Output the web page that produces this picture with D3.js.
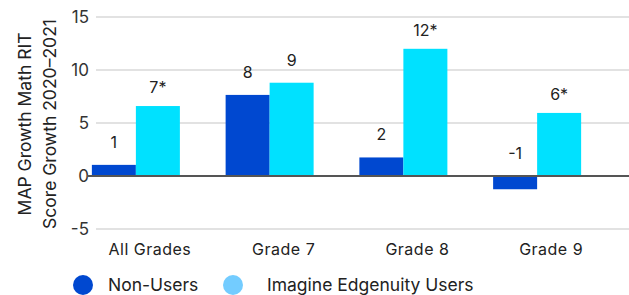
<!DOCTYPE html>
<html>
<head>
<meta charset="utf-8">
<script src="https://cdn.jsdelivr.net/npm/d3@7"></script>
<style>
  body { margin: 0; background: #fff; }
  text { font-family: Inter, 'Noto Sans', sans-serif; fill: #222; }
</style>
</head>
<body>
<div id="chart"></div>
<script>
// data
const categories = ['All Grades', 'Grade 7', 'Grade 8', 'Grade 9'];
const seriesNames = ['Non-Users', 'Imagine Edgenuity Users'];
const nonUsers = [1.05, 7.65, 1.75, -1.25];
const edgenuityUsers = [6.6, 8.8, 12.0, 5.95];
const nonUserLabels = ['1', '8', '2', '-1'];
const userLabels = ['7*', '9', '12*', '6*'];
const yTicks = [-5, 0, 5, 10, 15];

const width = 629;
const height = 295;
const barColors = ['#0048d0', '#00e1ff'];
const legendColors = ['#0048d0', '#73ccff'];

const svg = d3.select('#chart').append('svg').attr('width', width).attr('height', height);

// scales
const y = d3.scaleLinear().domain([-5, 15]).range([229, 17]);
const x = d3.scaleBand().domain(categories).range([69, 604]).paddingInner(0.342).paddingOuter(0.171);
const xSub = d3.scaleBand().domain(seriesNames).range([0, x.bandwidth()]);

// gridlines
svg.append('g')
  .selectAll('line')
  .data(yTicks.filter((d) => d !== 0))
  .join('line')
  .attr('x1', 96)
  .attr('x2', width)
  .attr('y1', (d) => y(d))
  .attr('y2', (d) => y(d))
  .attr('stroke', '#d9d9d9')
  .attr('stroke-width', 1.5);

// y tick labels
svg.append('g')
  .selectAll('text')
  .data(yTicks)
  .join('text')
  .attr('x', 89)
  .attr('y', (d) => y(d))
  .attr('dy', '0.35em')
  .attr('text-anchor', 'end')
  .attr('font-size', 17)
  .style('fill', '#333')
  .text((d) => d);

// bars
const rows = categories.map((c, i) => ({
  category: c,
  values: [
    { name: seriesNames[0], value: nonUsers[i], label: nonUserLabels[i] },
    { name: seriesNames[1], value: edgenuityUsers[i], label: userLabels[i] },
  ],
}));

const groups = svg.append('g')
  .selectAll('g')
  .data(rows)
  .join('g')
  .attr('transform', (d) => `translate(${x(d.category)},0)`);

groups.selectAll('rect')
  .data((d) => d.values)
  .join('rect')
  .attr('x', (d) => xSub(d.name))
  .attr('width', xSub.bandwidth())
  .attr('y', (d) => y(Math.max(0, d.value)))
  .attr('height', (d) => Math.abs(y(d.value) - y(0)))
  .attr('fill', (d, i) => barColors[i]);

// value labels (starred ones sit a bit closer to the bar)
groups.selectAll('text')
  .data((d) => d.values)
  .join('text')
  .attr('x', (d) => xSub(d.name) + xSub.bandwidth() / 2)
  .attr('y', (d) => y(Math.max(0, d.value)) - (d.label.includes('*') ? 13 : 17))
  .attr('text-anchor', 'middle')
  .attr('font-size', 16)
  .text((d) => d.label);

// zero line on top of bars
svg.append('line')
  .attr('x1', 87)
  .attr('x2', width)
  .attr('y1', y(0))
  .attr('y2', y(0))
  .attr('stroke', '#555')
  .attr('stroke-width', 2);

// category labels
svg.append('g')
  .selectAll('text')
  .data(categories)
  .join('text')
  .attr('x', (d) => x(d) + x.bandwidth() / 2 + 14)
  .attr('y', 255)
  .attr('text-anchor', 'middle')
  .attr('font-size', 16)
  .attr('letter-spacing', 0.5)
  .text((d) => d);

// y axis title, sized so the first line is about 183px long
const yTitle = svg.append('text')
  .attr('transform', `translate(0, 124) rotate(-90)`)
  .attr('text-anchor', 'middle')
  .attr('font-size', 17);
const line1 = yTitle.append('tspan').attr('x', 0).attr('y', 31).text('MAP Growth Math RIT');
yTitle.append('tspan').attr('x', 0).attr('y', 56).text('Score Growth 2020–2021');
const len = line1.node().getComputedTextLength();
yTitle.attr('font-size', Math.min(18, 17 * 183 / len));

// legend
const legendX = [83, 233];
const legendTextX = [25, 34];
const legend = svg.append('g')
  .selectAll('g')
  .data(seriesNames)
  .join('g')
  .attr('transform', (d, i) => `translate(${legendX[i]},285)`);

legend.append('circle').attr('r', 10).attr('fill', (d, i) => legendColors[i]);
legend.append('text')
  .attr('x', (d, i) => legendTextX[i])
  .attr('dy', '0.35em')
  .attr('font-size', 17.5)
  .text((d) => d);
</script>
</body>
</html>
